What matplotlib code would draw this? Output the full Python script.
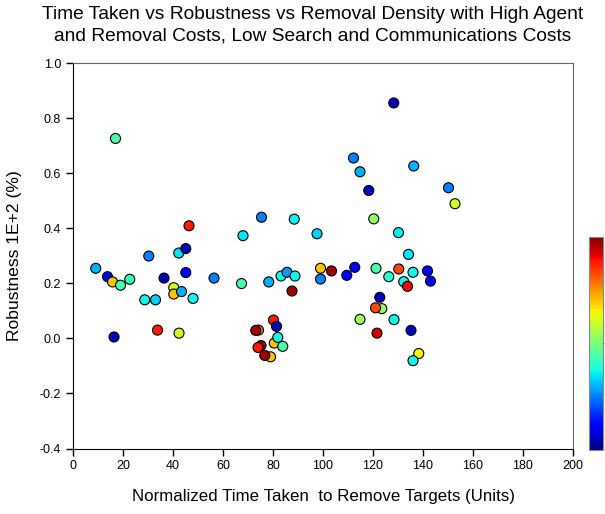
import matplotlib.pyplot as plt
import numpy as np

plt.rcParams['font.family'] = ['Liberation Sans', 'DejaVu Sans']

# time taken (x), robustness (y), removal density (colour, 0..1 on jet)
time_taken = [9.1, 13.8, 15.8, 19.0, 22.7, 16.4, 17.0, 28.7, 30.3, 33.0, 33.8, 36.4,
              40.3, 40.3, 42.3, 43.4, 42.4, 45.1, 45.1, 46.4, 48.0, 56.4, 67.4, 68.0,
              75.4, 74.2, 73.1, 78.3, 83.2, 85.6, 88.8, 88.5, 87.6, 80.2, 81.4, 80.5,
              81.9, 83.9, 75.2, 74.0, 79.0, 76.7, 97.6, 99.0, 99.0, 103.4, 109.5, 112.7,
              112.2, 114.8, 118.3, 120.3, 121.2, 126.3, 128.3, 130.3, 130.2, 134.2, 136.0,
              132.3, 133.8, 136.3, 141.8, 143.0, 150.2, 152.8, 122.7, 123.5, 121.0, 114.8,
              128.4, 121.6, 135.2, 138.3, 136.0]
robustness = [0.2545, 0.224, 0.205, 0.193, 0.2145, 0.005, 0.726, 0.140, 0.299, 0.140, 0.030, 0.219,
              0.184, 0.161, 0.310, 0.170, 0.019, 0.326, 0.239, 0.409, 0.145, 0.219, 0.199, 0.373,
              0.440, 0.030, 0.029, 0.205, 0.2265, 0.240, 0.2265, 0.433, 0.172, 0.0665, 0.0435, -0.017,
              0.0035, -0.029, -0.026, -0.033, -0.067, -0.062, 0.380, 0.2545, 0.2155, 0.245, 0.229, 0.258,
              0.655, 0.605, 0.537, 0.434, 0.2545, 0.224, 0.855, 0.252, 0.384, 0.305, 0.240,
              0.206, 0.189, 0.626, 0.245, 0.208, 0.547, 0.489, 0.149, 0.108, 0.111, 0.069,
              0.068, 0.019, 0.029, -0.055, -0.081]
density = [0.30, 0.10, 0.70, 0.44, 0.42, 0.05, 0.44, 0.37, 0.25, 0.33, 0.88, 0.05,
           0.60, 0.70, 0.35, 0.30, 0.60, 0.05, 0.12, 0.88, 0.37, 0.25, 0.44, 0.35,
           0.25, 0.77, 0.97, 0.30, 0.37, 0.27, 0.37, 0.36, 0.97, 0.88, 0.05, 0.70,
           0.37, 0.44, 0.97, 0.88, 0.70, 0.97, 0.33, 0.70, 0.25, 0.97, 0.12, 0.12,
           0.25, 0.30, 0.05, 0.53, 0.44, 0.40, 0.05, 0.83, 0.36, 0.35, 0.37,
           0.37, 0.90, 0.30, 0.12, 0.12, 0.25, 0.60, 0.05, 0.53, 0.83, 0.53,
           0.37, 0.93, 0.05, 0.65, 0.37]

x_ticks = np.arange(0, 201, 20)
y_ticks = np.arange(-0.4, 1.01, 0.2)

fig = plt.figure(figsize=(6.05, 5.14), dpi=100)
ax = fig.add_axes([0.1207, 0.1274, 0.8264, 0.75])

sc = ax.scatter(time_taken, robustness, c=density, cmap='jet', vmin=0, vmax=1,
                s=52, edgecolors='black', linewidths=0.8, zorder=3)

ax.set_xlim(0, 200)
ax.set_ylim(-0.4, 1.0)
ax.set_xticks(x_ticks)
ax.set_yticks(y_ticks)
ax.set_yticklabels(['%.1f' % v for v in y_ticks])
ax.tick_params(labelsize=9, direction='out', length=5, width=1, top=False, right=False)
for side in ['top', 'right']:
    ax.spines[side].set_color('#666666')
for side in ['left', 'bottom']:
    ax.spines[side].set_color('black')

ax.set_xlabel('Normalized Time Taken  to Remove Targets (Units)', fontsize=12.2)
ax.set_ylabel('Robustness 1E+2 (%)', fontsize=12.6)
ax.xaxis.set_label_coords(0.5, -0.105)
ax.yaxis.set_label_coords(-0.102, 0.5)

fig.text(0.517, 0.988, 'Time Taken vs Robustness vs Removal Density with High Agent\n'
         'and Removal Costs, Low Search and Communications Costs',
         fontsize=13.8, ha='center', va='top', multialignment='center', linespacing=1.32)

# colour bar without labels
cax = fig.add_axes([0.974, 0.1245, 0.023, 0.4145])
cb = fig.colorbar(sc, cax=cax)
cb.set_ticks([0.5])
cb.set_ticklabels([''])
cax.tick_params(length=2, color='#888888', direction='inout')
cb.outline.set_edgecolor('#888888')

plt.savefig('out.png', dpi=100)
